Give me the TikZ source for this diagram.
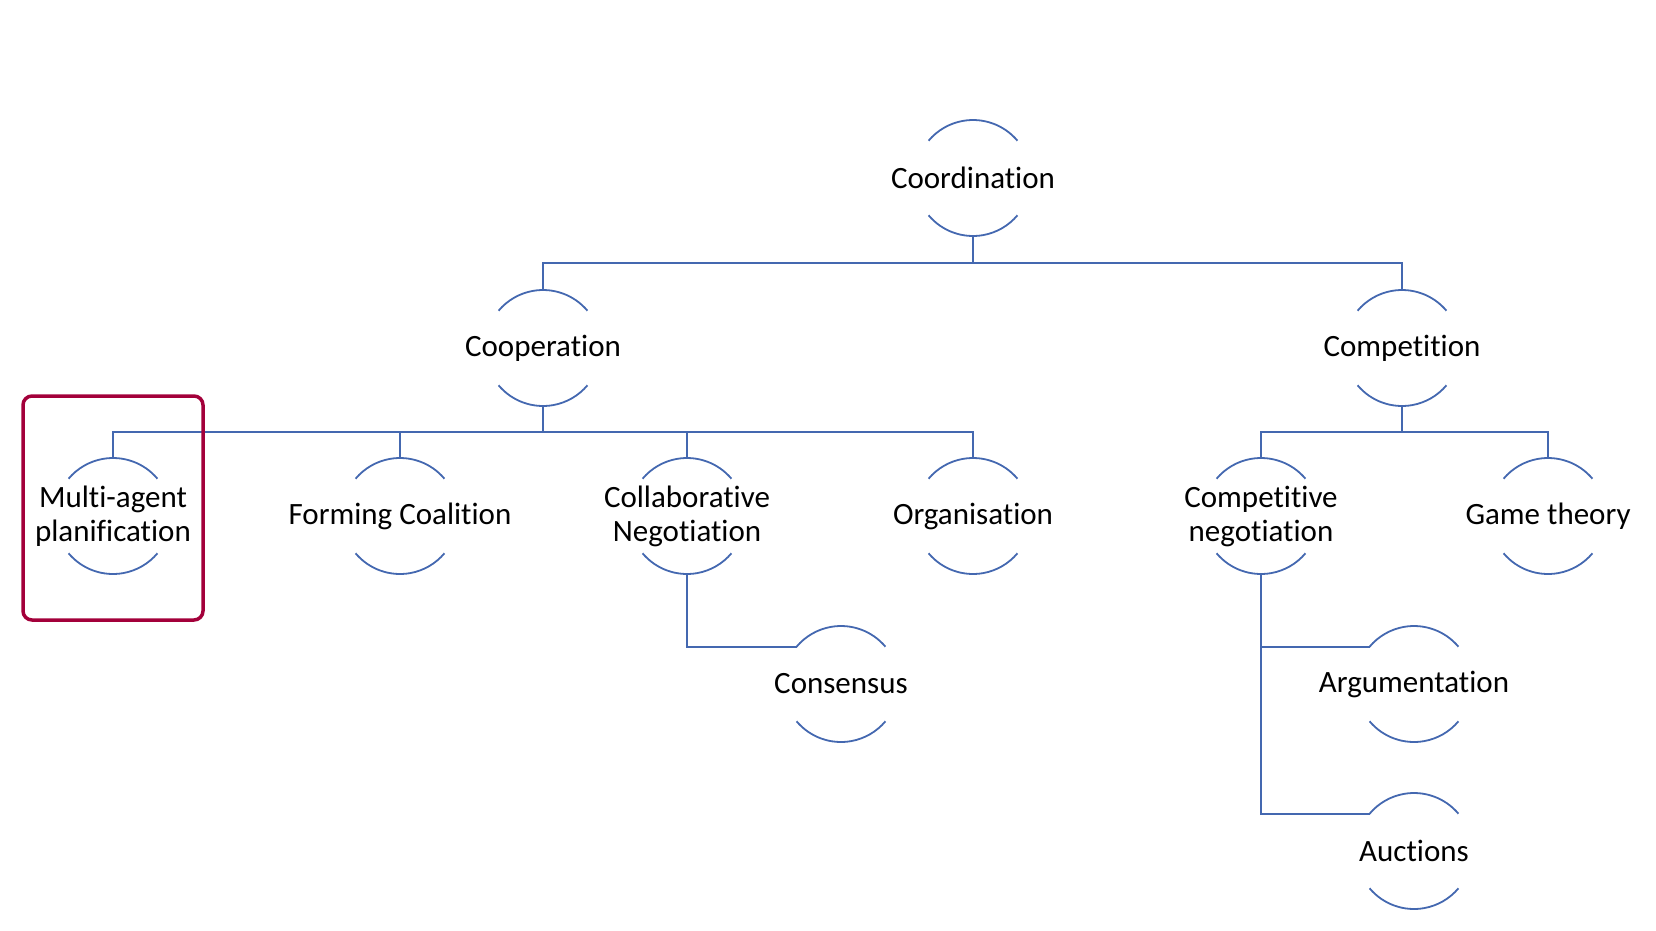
\documentclass[tikz,border=0pt]{standalone}
\usepackage{fontspec}
\setmainfont{Carlito}[Ligatures=NoCommon]
\definecolor{lineblue}{RGB}{68,104,176}
\definecolor{hlred}{RGB}{163,0,58}
\begin{document}
\begin{tikzpicture}[x=1pt,y=1pt,
  bubble/.style={inner sep=0pt, align=center, font=\fontsize{31}{34}\selectfont, text=black},
  arcline/.style={draw=lineblue, line width=1.8pt},
  link/.style={draw=lineblue, line width=2.2pt},
  hlbox/.style={draw=hlred, line width=3.5pt, rounded corners=9pt, minimum width=180pt, minimum height=224pt, inner sep=0pt}]
\useasboundingbox (0,0) rectangle (1656,-930);
% nodes
\node[bubble] (coord) at (973,-178) {Coordination};
\node[bubble] (coop) at (543,-348) {Cooperation};
\node[bubble] (comp) at (1402,-348) {Competition};
\node[bubble] (multi) at (113,-516) {Multi-agent\\planification};
\node[bubble] (form) at (400,-516) {Forming Coalition};
\node[bubble] (collab) at (687,-516) {Collaborative\\Negotiation};
\node[bubble] (org) at (973,-516) {Organisation};
\node[bubble] (compneg) at (1261,-516) {Competitive\\negotiation};
\node[bubble] (game) at (1548,-516) {Game theory};
\node[bubble] (cons) at (841,-684) {Consensus};
\node[bubble] (arg) at (1414,-684) {Argumentation};
\node[bubble] (auc) at (1414,-851) {Auctions};
% arcs
\foreach \n in {coord,coop,comp,multi,form,collab,org,compneg,game,cons,arg,auc}{
  \draw[arcline] ([shift={(40:58)}]\n.center) arc (40:140:58);
  \draw[arcline] ([shift={(220:58)}]\n.center) arc (220:320:58);
}
% connectors
\foreach \c in {coop,comp}
  \draw[link] ([yshift=-58pt]coord.center) -- ++(0,-27) -| ([yshift=58pt]\c.center);
\foreach \c in {multi,form,collab,org}
  \draw[link] ([yshift=-58pt]coop.center) -- ++(0,-26) -| ([yshift=58pt]\c.center);
\foreach \c in {compneg,game}
  \draw[link] ([yshift=-58pt]comp.center) -- ++(0,-26) -| ([yshift=58pt]\c.center);
\draw[link] ([yshift=-58pt]collab.center) |- ([shift={(140:58)}]cons.center);
\draw[link] ([yshift=-58pt]compneg.center) |- ([shift={(140:58)}]arg.center);
\draw[link] ([yshift=-58pt]compneg.center) |- ([shift={(140:58)}]auc.center);
% highlight
\node[hlbox] (hl) at (113,-508) {};
\end{tikzpicture}
\end{document}
